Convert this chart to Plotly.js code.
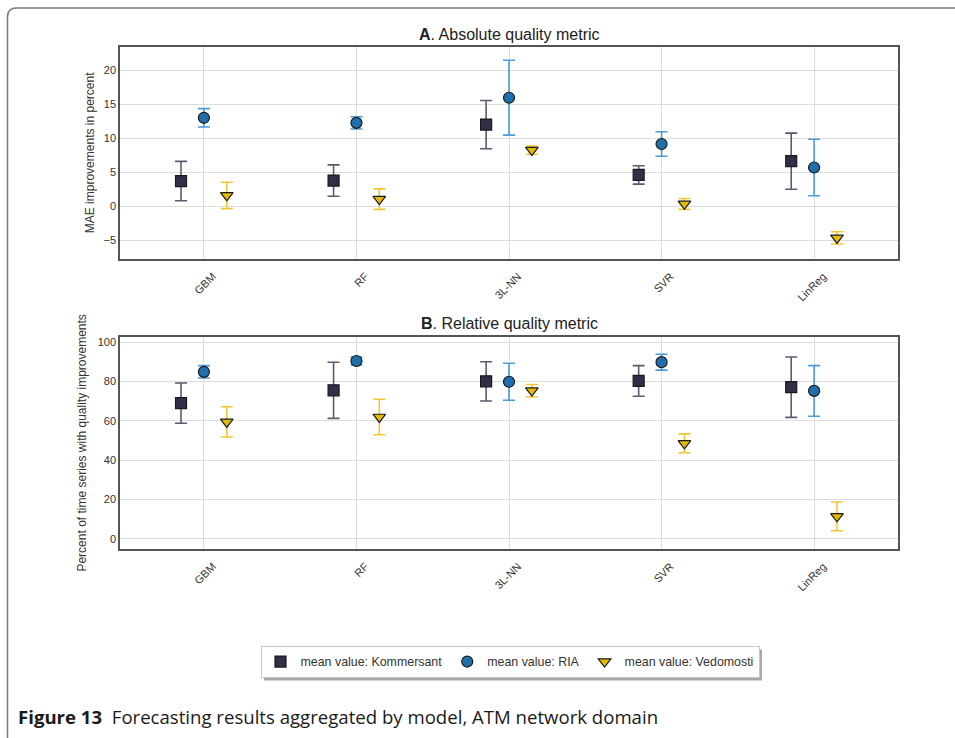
<!DOCTYPE html>
<html>
<head>
<meta charset="utf-8">
<script src="https://cdn.plot.ly/plotly-3.0.1.min.js"></script>
<style>
  html, body { margin: 0; padding: 0; background: #ffffff; }
  #chart { width: 955px; height: 738px; }
</style>
</head>
<body>
<div id="chart"></div>
<script>
// Models on the x axis
const models = ['GBM', 'RF', '3L-NN', 'SVR', 'LinReg'];
const sourceNames = ['mean value: Kommersant', 'mean value: RIA', 'mean value: Vedomosti'];

// Panel A: MAE improvements in percent (mean and error half-width)
const maeKommersant    = [3.75, 3.83, 12.05, 4.65, 6.68];
const maeKommersantErr = [2.9, 2.3, 3.55, 1.35, 4.12];
const maeRIA           = [13.05, 12.3, 16.0, 9.2, 5.75];
const maeRIAErr        = [1.35, 0.9, 5.5, 1.8, 4.15];
const maeVedomosti     = [1.65, 1.1, 8.3, 0.4, -4.6];
const maeVedomostiErr  = [1.94, 1.5, 0.6, 0.8, 0.9];

// Panel B: percent of time series with quality improvements
const relKommersant    = [68.95, 75.45, 80.0, 80.2, 77.05];
const relKommersantErr = [10.25, 14.25, 10.0, 7.8, 15.35];
const relRIA           = [84.85, 90.35, 79.8, 89.75, 75.15];
const relRIAErr        = [3.15, 2.05, 9.4, 4.05, 12.85];
const relVedomosti     = [59.4, 61.9, 75.3, 48.5, 11.4];
const relVedomostiErr  = [7.7, 9.0, 3.1, 4.8, 7.3];

const W = 955, H = 738;
const px = v => v / W;
const py = v => 1 - v / H;

// per-source styling: marker symbol, fill, error bar colour, offset within a model slot
const styles = [
  { symbol: 'square',        fill: '#2f2f4a', err: '#5b5a70', dx: -0.15, size: 11 },
  { symbol: 'circle',        fill: '#1f6fae', err: '#4a9bd6', dx: 0.0,   size: 11 },
  { symbol: 'triangle-down', fill: '#e6b800', err: '#f2c535', dx: 0.15,  size: 11 }
];

function series(vals, errs, k, xa, ya, showLegend) {
  const s = styles[k];
  return {
    type: 'scatter',
    mode: 'markers',
    name: sourceNames[k],
    legendgroup: sourceNames[k],
    showlegend: showLegend,
    x: models.map((_, i) => i + s.dx),
    y: vals,
    xaxis: xa,
    yaxis: ya,
    marker: { symbol: s.symbol, size: s.size, color: s.fill, line: { color: '#1a1a1a', width: 1.2 } },
    error_y: { type: 'data', array: errs, visible: true, color: s.err, thickness: 1.6, width: 6 },
    hoverinfo: 'x+y'
  };
}

const data = [
  series(maeKommersant, maeKommersantErr, 0, 'x', 'y', true),
  series(maeRIA, maeRIAErr, 1, 'x', 'y', true),
  series(maeVedomosti, maeVedomostiErr, 2, 'x', 'y', true),
  series(relKommersant, relKommersantErr, 0, 'x2', 'y2', false),
  series(relRIA, relRIAErr, 1, 'x2', 'y2', false),
  series(relVedomosti, relVedomostiErr, 2, 'x2', 'y2', false)
];

const font = 'Liberation Sans, Arial, sans-serif';
const gridColor = '#dddddd';
const frameColor = '#555555';

function xAxis(anchor) {
  return {
    anchor: anchor,
    domain: [px(120), px(898)],
    range: [-0.55, 4.55],
    tickvals: models.map((_, i) => i),
    ticktext: models,
    tickangle: -45,
    ticklabelshift: 9,
    ticklabelstandoff: 5,
    tickfont: { family: font, size: 11, color: '#333333' },
    showgrid: true, gridcolor: gridColor, gridwidth: 1,
    zeroline: false,
    showline: true, mirror: true, linecolor: frameColor, linewidth: 1.5,
    ticks: ''
  };
}

function yAxis(anchor, top, bottom, range, ticks, title, standoff) {
  return {
    anchor: anchor,
    domain: [py(bottom), py(top)],
    range: range,
    tickvals: ticks,
    tickfont: { family: font, size: 11, color: '#333333' },
    showgrid: true, gridcolor: gridColor, gridwidth: 1,
    zeroline: false,
    showline: true, mirror: true, linecolor: frameColor, linewidth: 1.5,
    ticks: '',
    title: { text: title, standoff: standoff, font: { family: font, size: 12, color: '#333333' } }
  };
}

const layout = {
  width: W, height: H,
  margin: { l: 0, r: 0, t: 0, b: 0 },
  paper_bgcolor: '#ffffff',
  plot_bgcolor: '#ffffff',
  font: { family: font, color: '#333333' },
  xaxis: xAxis('y'),
  yaxis: yAxis('x', 46.7, 259, [-7.7, 23.5], [-5, 0, 5, 10, 15, 20], 'MAE improvements in percent', 6),
  xaxis2: xAxis('y2'),
  yaxis2: yAxis('x2', 336.7, 549, [-5.2, 102.7], [0, 20, 40, 60, 80, 100], 'Percent of time series with quality improvements', 8),
  showlegend: true,
  legend: {
    orientation: 'h',
    x: px(510), xanchor: 'center',
    y: py(646), yanchor: 'top',
    bgcolor: '#ffffff',
    bordercolor: '#c8c8c8', borderwidth: 1,
    font: { family: font, size: 12.4, color: '#333333' }
  },
  annotations: [
    { text: '<b>A</b>. Absolute quality metric', xref: 'paper', yref: 'paper',
      x: px(509), y: py(34), xanchor: 'center', yanchor: 'middle', showarrow: false,
      font: { family: font, size: 16, color: '#222222' } },
    { text: '<b>B</b>. Relative quality metric', xref: 'paper', yref: 'paper',
      x: px(509), y: py(324), xanchor: 'center', yanchor: 'middle', showarrow: false,
      font: { family: font, size: 16, color: '#222222' } },
    { text: '<b>Figure 13</b>\u00a0\u00a0Forecasting results aggregated by model, ATM network domain',
      xref: 'paper', yref: 'paper', x: px(16), y: py(716), xanchor: 'left', yanchor: 'middle',
      showarrow: false, font: { family: 'Open Sans, sans-serif', size: 18.6, color: '#1a1a1a' } }
  ],
  shapes: [
    // page frame with rounded top-left corner
    { type: 'path', xref: 'paper', yref: 'paper', layer: 'below',
      path: `M ${px(7.5)},${py(760)} L ${px(7.5)},${py(17)} Q ${px(7.5)},${py(8)} ${px(16.5)},${py(8)} L ${px(980)},${py(8)}`,
      line: { color: '#7a7a7a', width: 1.5 } }
  ]
};

Plotly.newPlot('chart', data, layout, { displayModeBar: false, responsive: false }).then(gd => {
  // soft drop shadow behind the legend box, sized from the rendered legend
  const bg = gd.querySelector('.legend .bg');
  if (!bg) return;
  const r = bg.getBoundingClientRect();
  const host = gd.getBoundingClientRect();
  const left = r.left - host.left, top = r.top - host.top;
  Plotly.relayout(gd, {
    'shapes[1]': {
      type: 'rect', xref: 'paper', yref: 'paper', layer: 'above',
      x0: px(left + 3), x1: px(left + r.width + 3),
      y0: py(top + 3), y1: py(top + r.height + 3),
      fillcolor: '#a8a8a8', line: { width: 0 }
    }
  });
});
</script>
</body>
</html>
